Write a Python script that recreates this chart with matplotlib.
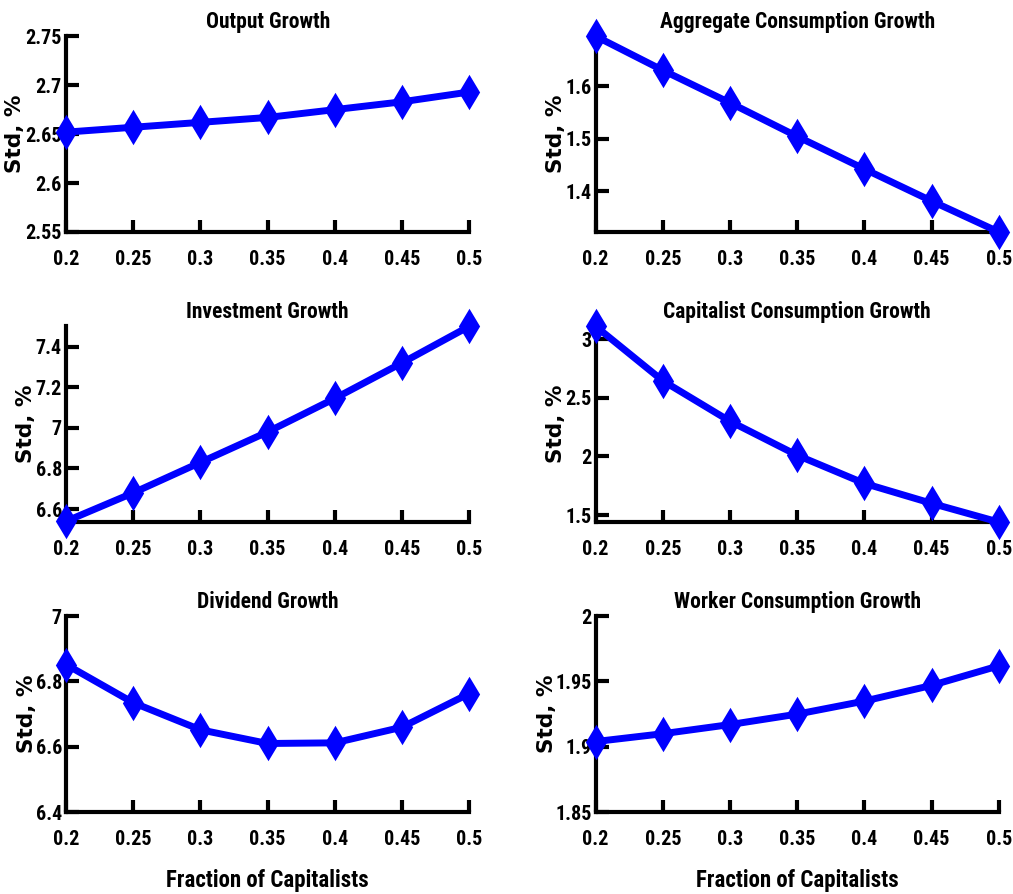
import numpy as np
import matplotlib.pyplot as plt
from matplotlib import font_manager

# Veri
frac = [0.2, 0.25, 0.3, 0.35, 0.4, 0.45, 0.5]
output_std = [2.652, 2.657, 2.662, 2.667, 2.675, 2.683, 2.693]
agg_cons_std = [1.695, 1.630, 1.568, 1.504, 1.442, 1.381, 1.322]
invest_std = [6.54, 6.68, 6.83, 6.98, 7.145, 7.32, 7.50]
cap_cons_std = [3.11, 2.645, 2.30, 2.01, 1.77, 1.60, 1.44]
dividend_std = [6.852, 6.735, 6.652, 6.610, 6.612, 6.660, 6.763]
worker_cons_std = [1.904, 1.910, 1.917, 1.925, 1.935, 1.947, 1.962]

titles = ['Output Growth', 'Aggregate Consumption Growth',
          'Investment Growth', 'Capitalist Consumption Growth',
          'Dividend Growth', 'Worker Consumption Growth']
series = [output_std, agg_cons_std, invest_std, cap_cons_std,
          dividend_std, worker_cons_std]
ylims = [(2.55, 2.75), (1.322, 1.695), (6.536, 7.50),
         (1.44, 3.11), (6.4, 7.0), (1.85, 2.0)]
yticks = [[2.55, 2.6, 2.65, 2.7, 2.75], [1.4, 1.5, 1.6],
          [6.6, 6.8, 7.0, 7.2, 7.4], [1.5, 2.0, 2.5, 3.0],
          [6.4, 6.6, 6.8, 7.0], [1.85, 1.9, 1.95, 2.0]]
xticks = [0.2, 0.25, 0.3, 0.35, 0.4, 0.45, 0.5]

names = {f.name for f in font_manager.fontManager.ttflist}
narrow = 'DejaVu Sans'
for cand in ['Liberation Sans Narrow', 'Roboto Condensed']:
    if cand in names:
        narrow = cand
        break

fig = plt.figure(figsize=(10.13, 8.94), dpi=100)

lefts = [0.0652, 0.588]
bottoms = [0.7405, 0.416, 0.0917]
w, h = 0.398, 0.219
# ylabel konumlari (eksen kesri)
ylab_x = [-0.102, -0.073, -0.074, -0.073, -0.072, -0.096]

for i in range(6):
    r, c = divmod(i, 2)
    ax = fig.add_axes([lefts[c], bottoms[r], w, h])
    ax.plot(frac, series[i], '-d', color='#0000ff', lw=5, ms=15, mew=2,
            clip_on=False, zorder=5)
    ax.set_xlim(0.2, 0.5)
    ax.set_ylim(*ylims[i])
    ax.set_xticks(xticks)
    ax.set_xticklabels(['%g' % v for v in xticks])
    ax.set_yticks(yticks[i])
    ax.set_yticklabels(['%g' % v for v in yticks[i]])
    for s in ['top', 'right']:
        ax.spines[s].set_visible(False)
    for s in ['left', 'bottom']:
        ax.spines[s].set_linewidth(3)
    ax.tick_params(direction='in', length=9, width=3)
    ax.tick_params(axis='x', pad=13)
    ax.tick_params(axis='y', pad=3)
    for lab in ax.get_xticklabels() + ax.get_yticklabels():
        lab.set_fontfamily(narrow)
        lab.set_fontweight('bold')
        lab.set_fontsize(14.5)
    ax.set_title(titles[i], fontfamily=narrow, fontweight='bold',
                 fontsize=15.5, pad=6)
    ax.set_ylabel('Std, %', fontfamily='DejaVu Sans', fontweight='bold',
                  fontsize=15.5)
    ax.yaxis.set_label_coords(ylab_x[i], 0.5)
    if r == 2:
        ax.set_xlabel('Fraction of Capitalists', fontfamily=narrow,
                      fontweight='bold', fontsize=16.5, labelpad=14)

fig.savefig('out.png', dpi=100)
